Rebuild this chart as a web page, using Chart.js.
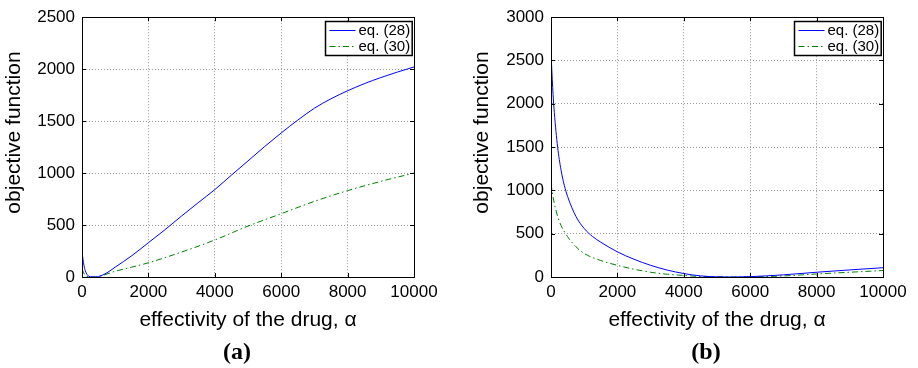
<!DOCTYPE html>
<html lang="en">
<head>
<meta charset="UTF-8">
<title>Objective function vs. effectivity of the drug</title>
<script src="https://cdn.jsdelivr.net/npm/chart.js"></script>
<style>
  body { margin: 0; background: #fff; }
  #wrap { position: relative; width: 918px; height: 368px; overflow: hidden; }
  .panel { position: absolute; top: 0; height: 368px; }
  #pa { left: 0; width: 460px; }
  #pb { left: 460px; width: 458px; }
  .tag { position: absolute; top: 338px; width: 60px; line-height: 28px; text-align: center;
         font: bold 24px "Liberation Serif", "Times New Roman", serif; color: #000; }
</style>
</head>
<body>
<div id="wrap">
  <div class="panel" id="pa"><canvas id="chartA" width="460" height="368"></canvas></div>
  <div class="panel" id="pb"><canvas id="chartB" width="458" height="368"></canvas></div>
  <div class="tag" style="left:207px">(a)</div>
  <div class="tag" style="left:676px">(b)</div>
</div>
<script>
// --- data ---
// panel (a)
const alphaA28 = [0, 30, 60, 100, 150, 200, 300, 400, 500, 750, 1000, 1500, 2000, 2500, 3000, 3500, 4000, 4500, 5000, 5500, 6000, 6500, 7000, 7500, 8000, 8500, 9000, 9500, 10000];
const eq28A    = [252, 170, 110, 60, 25, 8, 1, 0, 4, 40, 95, 205, 330, 455, 587, 715, 841, 980, 1117, 1255, 1386, 1510, 1624, 1715, 1792, 1860, 1919, 1972, 2021];
const alphaA30 = [0, 50, 100, 200, 300, 400, 500, 1000, 1500, 2000, 3000, 4000, 5000, 6000, 7000, 8000, 9000, 10000];
const eq30A    = [80, 40, 15, 2, 0, 1, 5, 55, 95, 137, 240, 356, 490, 609, 728, 831, 920, 1000];
// panel (b)
const alphaB28 = [0, 50, 100, 200, 300, 400, 500, 750, 1000, 1250, 1500, 2000, 2500, 3000, 3500, 4000, 4500, 5000, 5500, 6000, 7000, 8000, 9000, 10000];
const eq28B    = [2600, 2190, 1900, 1500, 1240, 1060, 930, 700, 560, 468, 402, 290, 205, 135, 80, 40, 13, 2, 0, 4, 25, 55, 82, 107];
const alphaB30 = [0, 50, 100, 200, 300, 500, 750, 1000, 1500, 2000, 2500, 3000, 3500, 4000, 4500, 5000, 5500, 6000, 7000, 8000, 9000, 10000];
const eq30B    = [1080, 950, 850, 700, 597, 465, 350, 272, 190, 135, 90, 55, 32, 18, 6, 1, 0, 1, 12, 35, 55, 75];

const xTicks = [0, 2000, 4000, 6000, 8000, 10000];
const labels = ['eq. (28)', 'eq. (30)'];

const FONT = '"Liberation Sans", Arial, sans-serif';

function pts(xs, ys) {
  return xs.map((x, i) => ({x: x, y: ys[i]}));
}

// box round the plot, inner tick marks and a MATLAB style legend
const matlabBox = {
  id: 'matlabBox',
  afterDraw(chart) {
    const {ctx, chartArea: a, scales} = chart;
    ctx.save();
    ctx.strokeStyle = '#000';
    ctx.lineWidth = 1;
    // inner ticks
    ctx.beginPath();
    scales.x.ticks.forEach(t => {
      const px = Math.round(scales.x.getPixelForValue(t.value)) + 0.5;
      ctx.moveTo(px, a.bottom); ctx.lineTo(px, a.bottom - 4);
      ctx.moveTo(px, a.top); ctx.lineTo(px, a.top + 4);
    });
    scales.y.ticks.forEach(t => {
      const py = Math.round(scales.y.getPixelForValue(t.value)) + 0.5;
      ctx.moveTo(a.left, py); ctx.lineTo(a.left + 4, py);
      ctx.moveTo(a.right, py); ctx.lineTo(a.right - 4, py);
    });
    ctx.stroke();
    ctx.strokeRect(Math.round(a.left) + 0.5, Math.round(a.top) + 0.5,
                   Math.round(a.right - a.left), Math.round(a.bottom - a.top));

    // legend
    const ds = chart.data.datasets;
    ctx.font = '15px ' + FONT;
    const textW = Math.max(...ds.map(d => ctx.measureText(d.label).width));
    const sample = 26, pad = 4, gap = 3, rowH = 16;
    const w = pad + sample + gap + textW + 2;
    const h = ds.length * rowH + 2;
    const x0 = Math.round(a.right - 2 - w) + 0.5;
    const y0 = Math.round(a.top + 4) + 0.5;
    ctx.fillStyle = '#fff';
    ctx.fillRect(x0, y0, w, h);
    ctx.lineWidth = 1.5;
    ctx.strokeRect(x0, y0, w, h);
    ds.forEach((d, i) => {
      const cy = y0 + 1 + rowH * i + rowH / 2;
      ctx.beginPath();
      ctx.strokeStyle = d.borderColor;
      ctx.lineWidth = 1;
      ctx.setLineDash(d.borderDash || []);
      ctx.moveTo(x0 + pad, cy); ctx.lineTo(x0 + pad + sample, cy);
      ctx.stroke();
      ctx.setLineDash([]);
      ctx.fillStyle = '#000';
      ctx.textBaseline = 'middle';
      ctx.textAlign = 'left';
      ctx.fillText(d.label, x0 + pad + sample + gap, cy);
    });
    ctx.restore();
  }
};

function makeChart(id, s28, s30, yMax, yWidth, padRight, yTitlePad) {
  return new Chart(document.getElementById(id), {
    type: 'line',
    data: {
      datasets: [
        { label: labels[0], data: s28, borderColor: '#0000ff', borderWidth: 1, pointRadius: 0,
          cubicInterpolationMode: 'monotone' },
        { label: labels[1], data: s30, borderColor: '#008000', borderWidth: 1, pointRadius: 0,
          borderDash: [6, 3, 1.5, 3], cubicInterpolationMode: 'monotone' }
      ]
    },
    options: {
      responsive: false,
      animation: false,
      layout: { padding: { left: 0, right: padRight, top: 14, bottom: 35 } },
      plugins: { legend: { display: false }, tooltip: { enabled: false } },
      scales: {
        x: {
          type: 'linear', min: 0, max: 10000,
          afterBuildTicks: scale => { scale.ticks = xTicks.map(v => ({value: v})); },
          afterFit: scale => { scale.height = 56; },
          grid: { color: '#9a9a9a', drawTicks: false },
          border: { color: '#000', dash: [1, 2] },
          ticks: { color: '#000', padding: 5, maxRotation: 0, font: { family: FONT, size: 17 },
                   callback: v => String(v) },
          title: { display: true, text: 'effectivity of the drug, α', color: '#000',
                   padding: 0, font: { family: FONT, size: 21 } }
        },
        y: {
          min: 0, max: yMax,
          afterFit: scale => { scale.width = yWidth; },
          grid: { color: '#9a9a9a', drawTicks: false },
          border: { color: '#000', dash: [1, 2] },
          ticks: { color: '#000', stepSize: 500, padding: 7, font: { family: FONT, size: 17 },
                   callback: v => String(v) },
          title: { display: true, text: '     objective function', color: '#000',
                   padding: { top: yTitlePad, bottom: 0 }, font: { family: FONT, size: 21 } }
        }
      }
    },
    plugins: [matlabBox]
  });
}

makeChart('chartA', pts(alphaA28, eq28A), pts(alphaA30, eq30A), 2500, 82, 46, 2);
makeChart('chartB', pts(alphaB28, eq28B), pts(alphaB30, eq30B), 3000, 91, 35, 10);
</script>
</body>
</html>
